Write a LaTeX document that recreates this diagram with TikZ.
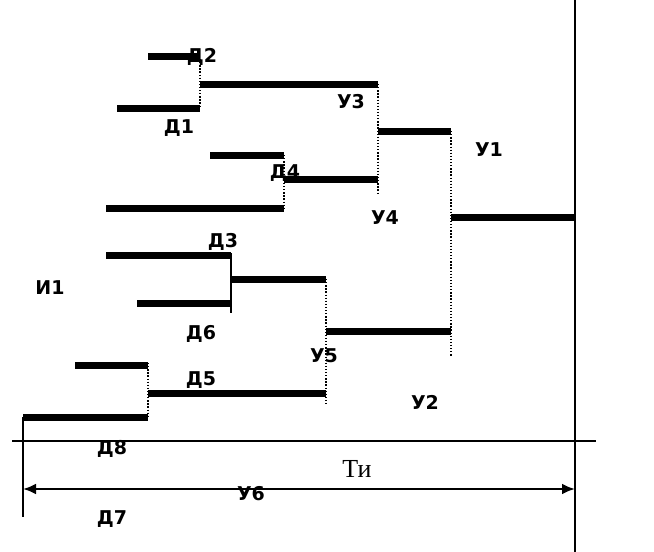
\documentclass[tikz,border=0pt]{standalone}
\usepackage{fontspec}
\setmainfont{Liberation Serif}
\newfontfamily\lblfont{DejaVu Sans}
\usepackage{tikz}
\usetikzlibrary{arrows.meta}
\tikzset{>={Latex[length=13pt,width=11pt]}}

\begin{document}
\begin{tikzpicture}[x=1pt,y=-1pt,
	bar/.style={line width=7pt},
	link/.style={line width=1.3pt,dash pattern=on 1.3pt off 1.8pt},
	lbl/.style={font=\lblfont\bfseries\fontsize{19}{19}\selectfont,inner sep=0pt}]
	\useasboundingbox (0,0) rectangle (654,552);

	% upper branch
	\draw[bar] (148,56) -- (200,56);
	\draw[bar] (117,108) -- (200,108);
	\draw[bar] (200,84) -- (378,84);
	\draw[link] (200,59) -- (200,108);
	\draw[bar] (210,155) -- (284,155);
	\draw[bar] (106,208) -- (284,208);
	\draw[bar] (284,179) -- (378,179);
	\draw[link] (284,155) -- (284,208);
	\draw[bar] (378,131) -- (451,131);
	\draw[link] (378,84) -- (378,195);
	\draw[bar] (451,217) -- (575,217);
	\draw[link] (451,131) -- (451,356);

	% lower branch
	\draw[bar] (106,255) -- (231,255);
	\draw[bar] (137,303) -- (231,303);
	\draw[line width=1.3pt] (231,253) -- (231,313);
	\draw[bar] (231,279) -- (326,279);
	\draw[bar] (75,365) -- (148,365);
	\draw[bar] (23,417) -- (148,417);
	\draw[link] (148,363) -- (148,417);
	\draw[bar] (148,393) -- (326,393);
	\draw[link] (326,279) -- (326,406);
	\draw[bar] (326,331) -- (451,331);

	% axes
	\draw[line width=1.3pt] (12,441) -- (596,441);
	\draw[line width=1.3pt] (23,417) -- (23,517);
	\draw[line width=1.6pt] (575,0) -- (575,552);
	\coordinate (tl) at (23,489);
	\coordinate (tr) at (575,489);
	\draw[<->,line width=2.4pt] (tl) -- (tr);

	% labels
	\node[lbl] (d2) at (202,57) {Д2};
	\node[lbl] (d1) at (179,128) {Д1};
	\node[lbl] (d4) at (285,173) {Д4};
	\node[lbl] (u3) at (351,102) {У3};
	\node[lbl] (u1) at (489,150) {У1};
	\node[lbl] (u4) at (385,218) {У4};
	\node[lbl] (d3) at (223,242) {Д3};
	\node[lbl] (i1) at (50,288) {И1};
	\node[lbl] (d6) at (201,334) {Д6};
	\node[lbl] (d5) at (201,380) {Д5};
	\node[lbl] (u5) at (324,356) {У5};
	\node[lbl] (u2) at (425,402) {У2};
	\node[lbl] (d8) at (112,449) {Д8};
	\node[lbl] (u6) at (251,494) {У6};
	\node[lbl] (d7) at (112,519) {Д7};
	\node[font=\fontsize{26}{26}\selectfont,inner sep=0pt] (ti) at (357,469) {Ти};
\end{tikzpicture}
\end{document}
